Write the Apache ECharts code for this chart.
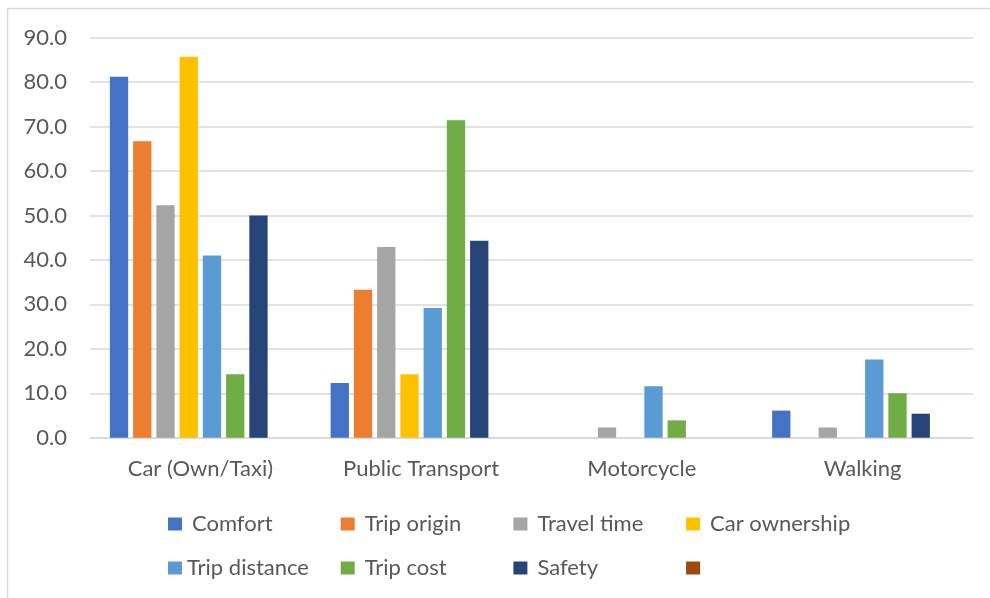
<!DOCTYPE html>
<html>
<head>
<meta charset="utf-8">
<script src="https://cdn.jsdelivr.net/npm/echarts@6/dist/echarts.min.js"></script>
<style>
html,body{margin:0;padding:0;background:#fff;}
#chart{width:990px;height:598px;}
</style>
</head>
<body>
<div id="chart"></div>
<script>
const categories = ['Car (Own/Taxi)', 'Public Transport', 'Motorcycle', 'Walking'];
const seriesNames = ['Comfort', 'Trip origin', 'Travel time', 'Car ownership', 'Trip distance', 'Trip cost', 'Safety', ' '];
const comfort      = [81.2, 12.3, 0, 6.1];
const tripOrigin   = [66.7, 33.3, 0, 0];
const travelTime   = [52.3, 42.9, 2.3, 2.3];
const carOwnership = [85.7, 14.3, 0, 0];
const tripDistance = [41.0, 29.2, 11.6, 17.6];
const tripCost     = [14.3, 71.4, 3.9, 10.0];
const safety       = [50.0, 44.3, 0, 5.4];
const unnamed      = [0, 0, 0, 0];
const yTicks = { min: 0, max: 90, interval: 10 };

const colors = ['#4472C4', '#ED7D31', '#A5A5A5', '#FFC000', '#5B9BD5', '#70AD47', '#264478', '#9E480E'];
const values = [comfort, tripOrigin, travelTime, carOwnership, tripDistance, tripCost, safety, unnamed];

const FONT = 'Lato';
const TXT = '#595959';

const chart = echarts.init(document.getElementById('chart'));
const legends = seriesNames.map((n, i) => ({
  left: 168 + (i % 4) * 172.7,
  top: i < 4 ? 513 : 557,
  padding: 0,
  itemWidth: 14,
  itemHeight: 13,
  icon: 'rect',
  selectedMode: false,
  data: [n],
  textStyle: { fontFamily: FONT, fontSize: 22, color: TXT, padding: [0, 0, 0, i === 4 ? 0 : 5] }
}));
chart.setOption({
  animation: false,
  color: colors,
  graphic: [{
    type: 'rect',
    shape: { x: 7.5, y: 8.5, width: 1200, height: 1200 },
    style: { fill: 'none', stroke: '#D9D9D9', lineWidth: 1.5 },
    silent: true
  }],
  grid: { left: 90, right: 17, top: 37.7, bottom: 160.3, containLabel: false },
  legend: legends,
  xAxis: {
    type: 'category',
    data: categories,
    axisLine: { show: true, lineStyle: { color: '#D9D9D9', width: 1.5 } },
    axisTick: { show: false },
    axisLabel: { fontFamily: FONT, fontSize: 22, color: TXT, margin: 20 },
    splitLine: { show: false }
  },
  yAxis: {
    type: 'value',
    min: yTicks.min, max: yTicks.max, interval: yTicks.interval,
    axisLine: { show: false },
    axisTick: { show: false },
    axisLabel: { fontFamily: FONT, fontSize: 22, color: TXT, margin: 23, formatter: v => v.toFixed(1) },
    splitLine: { lineStyle: { color: '#D9D9D9', width: 1.5 } }
  },
  series: seriesNames.map((n, i) => ({
    name: n,
    type: 'bar',
    data: values[i],
    barGap: '27%',
    barCategoryGap: '18%',
    itemStyle: { color: colors[i] }
  }))
});
</script>
</body>
</html>
